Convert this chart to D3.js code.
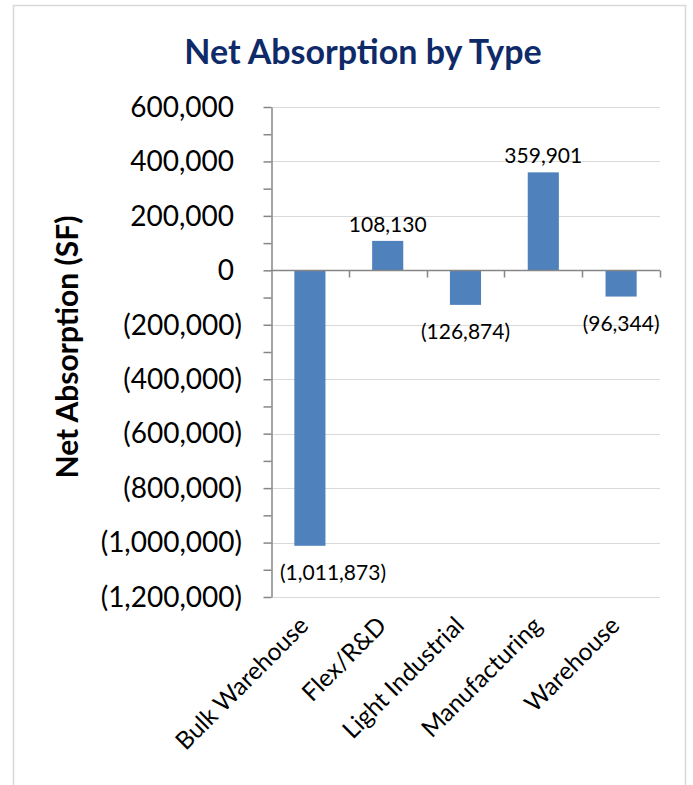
<!DOCTYPE html>
<html>
<head>
<meta charset="utf-8">
<script src="https://cdn.jsdelivr.net/npm/d3@7"></script>
<style>
  body { margin: 0; background: #fff; }
  svg { display: block; font-family: Lato, "Open Sans", sans-serif; }
</style>
</head>
<body>
<svg width="693" height="785"></svg>
<script>
var categories = ["Bulk Warehouse", "Flex/R&D", "Light Industrial", "Manufacturing", "Warehouse"];
var values = [-1011873, 108130, -126874, 359901, -96344];
var yTicks = [600000, 400000, 200000, 0, -200000, -400000, -600000, -800000, -1000000, -1200000];

var svg = d3.select('svg');

// chart frame
svg.append("rect")
  .attr("x", 13.5).attr("y", 5.5)
  .attr("width", 672).attr("height", 800)
  .attr("fill", "none")
  .attr("stroke", "#d9d9d9")
  .attr("stroke-width", 1.5);

var plotLeft = 271, plotRight = 660, plotTop = 107, plotBottom = 597;

var x = d3.scaleBand()
  .domain(categories)
  .range([plotLeft, plotRight])
  .paddingInner(0.6)
  .paddingOuter(0.3);

var y = d3.scaleLinear()
  .domain([-1200000, 600000])
  .range([plotBottom, plotTop]);

var num = d3.format(",");
function fmt(v) { return v < 0 ? "(" + num(-v) + ")" : num(v); }

// title
svg.append("text")
  .attr("x", 363).attr("y", 64)
  .attr("text-anchor", "middle")
  .attr("font-size", 34)
  .attr("font-weight", "bold")
  .attr("fill", "#0f2a68")
  .text("Net Absorption by Type");

// gridlines
svg.append("g")
  .selectAll("line")
  .data(yTicks)
  .enter()
  .append("line")
  .attr("x1", plotLeft).attr("x2", plotRight)
  .attr("y1", function (d) { return Math.round(y(d)) + 0.5; })
  .attr("y2", function (d) { return Math.round(y(d)) + 0.5; })
  .attr("stroke", "#d9d9d9")
  .attr("stroke-width", 1);

// y axis, minor ticks every 100,000
var allTicks = d3.range(-1200000, 600001, 100000);
var yAxis = svg.append("g")
  .attr("transform", "translate(" + (plotLeft + 0.5) + ",0)")
  .call(d3.axisLeft(y).tickValues(allTicks).tickSize(8).tickSizeOuter(0).tickFormat(""));
yAxis.selectAll("line, path").attr("stroke", "#868686").attr("stroke-width", 1.5);

svg.append("g")
  .selectAll("text")
  .data(yTicks)
  .enter()
  .append("text")
  .attr("x", function (d) { return d < 0 ? 242 : 234; })
  .attr("y", function (d) { return y(d); })
  .attr("dy", "0.35em")
  .attr("text-anchor", "end")
  .attr("font-size", 28)
  .attr("fill", "#000")
  .text(fmt);

// bars
svg.append("g")
  .selectAll("rect")
  .data(values)
  .enter()
  .append("rect")
  .attr("x", function (d, i) { return x(categories[i]); })
  .attr("width", x.bandwidth())
  .attr("y", function (d) { return y(Math.max(0, d)); })
  .attr("height", function (d) { return Math.abs(y(d) - y(0)); })
  .attr("fill", "#4f81bd");

// category axis at zero
var zeroY = Math.round(y(0)) + 0.5;
svg.append("line")
  .attr("x1", plotLeft).attr("x2", plotRight)
  .attr("y1", zeroY).attr("y2", zeroY)
  .attr("stroke", "#868686").attr("stroke-width", 1.5);

var bounds = d3.range(1, categories.length + 1).map(function (k) { return plotLeft + k * x.step(); });
svg.append("g")
  .selectAll("line")
  .data(bounds)
  .enter()
  .append("line")
  .attr("x1", function (d) { return Math.round(d) + 0.5; })
  .attr("x2", function (d) { return Math.round(d) + 0.5; })
  .attr("y1", zeroY).attr("y2", zeroY + 7)
  .attr("stroke", "#868686").attr("stroke-width", 1.5);

// data labels
var labels = svg.append("g")
  .selectAll("text")
  .data(values)
  .enter()
  .append("text")
  .attr("x", function (d, i) { return x(categories[i]) + x.bandwidth() / 2; })
  .attr("y", function (d) { return d < 0 ? y(d) + 34 : y(d) - 9; })
  .attr("text-anchor", "middle")
  .attr("font-size", 21)
  .attr("fill", "#000")
  .text(fmt);

// keep labels clear of the value axis
labels.each(function () {
  var bb = this.getBBox();
  if (bb.x < plotLeft + 9) {
    d3.select(this).attr("x", +d3.select(this).attr("x") + (plotLeft + 9 - bb.x));
  }
});

// category labels
svg.append("g")
  .selectAll("text")
  .data(categories)
  .enter()
  .append("text")
  .attr("transform", function (d) {
    return "translate(" + (x(d) + x.bandwidth() / 2 - 12) + "," + 615 + ") rotate(-45)";
  })
  .attr("dy", "0.7em")
  .attr("text-anchor", "end")
  .attr("font-size", 24.5)
  .attr("fill", "#000")
  .text(function (d) { return d; });

// y axis title
svg.append("text")
  .attr("transform", "translate(78,347) rotate(-90)")
  .attr("text-anchor", "middle")
  .attr("font-size", 30)
  .attr("font-weight", "bold")
  .attr("fill", "#000")
  .text("Net Absorption (SF)");
</script>
</body>
</html>
